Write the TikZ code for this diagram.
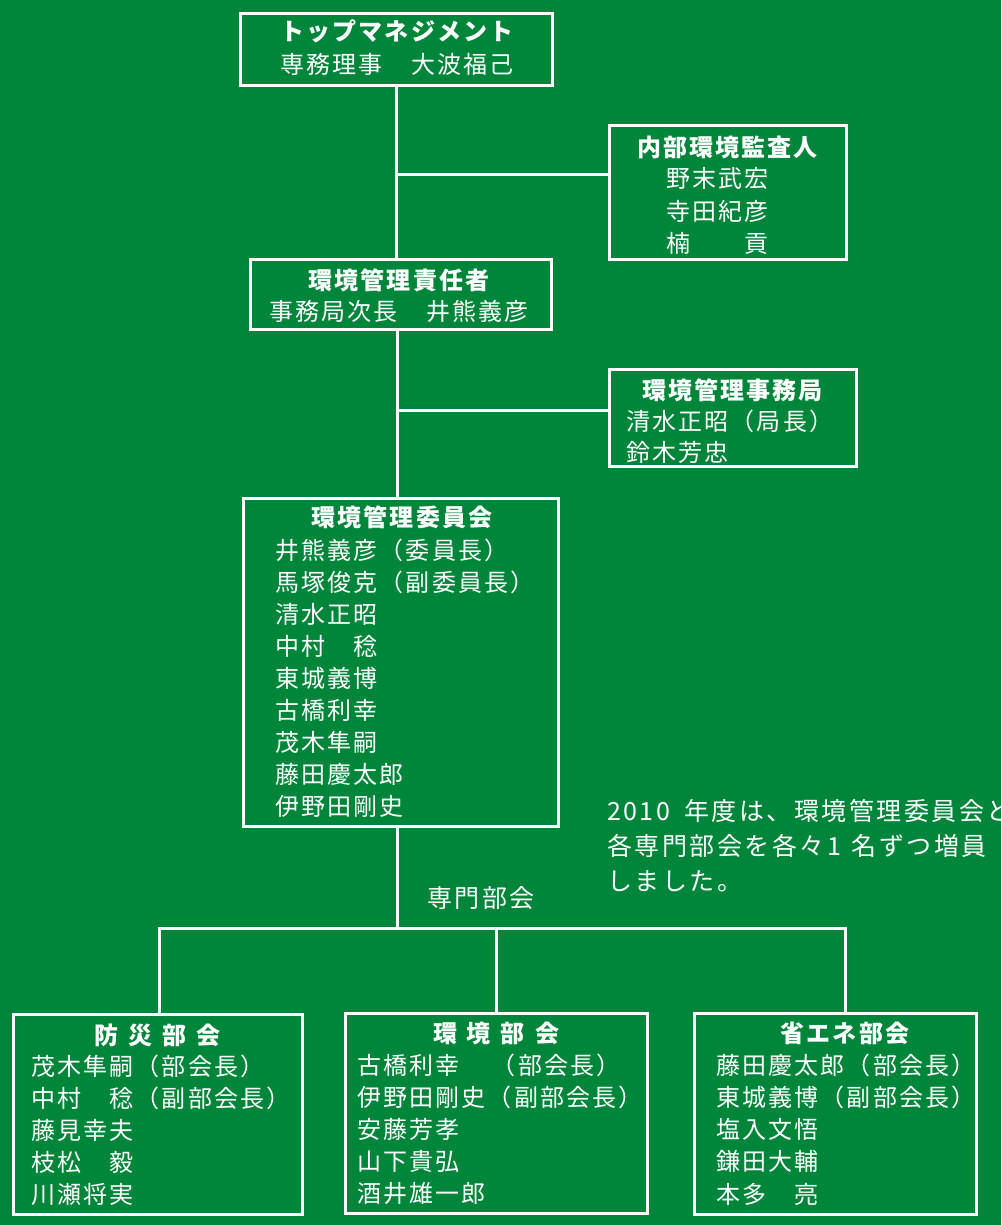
\documentclass[tikz,border=0pt]{standalone}
\usepackage{fontspec}
\newfontfamily\jp[LetterSpace=9]{Noto Sans CJK JP}
\definecolor{bg}{RGB}{0,134,58}
\begin{document}
\begin{tikzpicture}[x=1pt,y=-1pt,
  wl/.style={draw=white, line width=3pt, line join=miter},
  box/.style={draw=white, line width=3pt, inner sep=0pt},
  ln/.style={anchor=west, inner sep=0pt, text=white, text height=21pt, text depth=3pt, font=\jp\fontsize{24}{28}\selectfont},
  lnc/.style={ln, anchor=center},
  ttl/.style={anchor=center, inner sep=0pt, text=white, text height=21pt, text depth=3pt, font=\jp\bfseries\fontsize{24}{28}\selectfont},
  note/.style={anchor=west, inner sep=0pt, text=white, text height=22pt, text depth=3pt, font=\jp\fontsize{25}{30}\selectfont\addfontfeatures{LetterSpace=10}},
]
\fill[bg] (0,0) rectangle (1001,1225);
\useasboundingbox (0,0) rectangle (1001,1225);

% boxes
\node[box, minimum width=312pt, minimum height=72pt] (top) at (396.5,49.5) {};
\node[box, minimum width=237pt, minimum height=134pt] (audit) at (728,192.5) {};
\node[box, minimum width=301pt, minimum height=70pt] (resp) at (401,294.5) {};
\node[box, minimum width=247pt, minimum height=97pt] (office) at (733,418) {};
\node[box, minimum width=315pt, minimum height=328pt] (comm) at (401,662.5) {};
\node[box, minimum width=289pt, minimum height=200pt] (bousai) at (158,1114.5) {};
\node[box, minimum width=302pt, minimum height=200pt] (kankyo) at (496.5,1113.5) {};
\node[box, minimum width=282pt, minimum height=201pt] (shoene) at (835.5,1114) {};

% connector coordinates
\coordinate (v1) at (397,175);
\coordinate (v2) at (397,410);
\coordinate (busL) at (159,928);
\coordinate (busM) at (496,928);
\coordinate (busR) at (845,928);

% connectors
\draw[wl] (top.south) -- (top.south |- resp.north);
\draw[wl] (v1) -- (v1 -| audit.west);
\draw[wl] (resp.south -| v1) -- (v1 |- comm.north);
\draw[wl] (v2) -- (v2 -| office.west);
\draw[wl] (comm.south -| v1) -- (busM -| v1);
\draw[wl] (bousai.north -| busL) -- (busL) -- (busR) -- (shoene.north -| busR);
\draw[wl] (busM) -- (busM |- kankyo.north);

% top management
\node[ttl] (t1) at (397,32) {トップマネジメント};
\node[lnc] (t2) at (397,65) {専務理事　大波福己};

% audit
\node[ttl] (a0) at (727.5,147.5) {内部環境監査人};
\node[ln] (a1) at (666,179) {野末武宏};
\node[ln] (a2) at (666,211) {寺田紀彦};
\node[ln] (a3) at (666,243) {楠　　貢};

% responsible
\node[ttl] (r0) at (399,280) {環境管理責任者};
\node[lnc] (r1) at (399,311) {事務局次長　井熊義彦};

% office
\node[ttl] (o0) at (732.5,390) {環境管理事務局};
\node[ln] (o1) at (626,421) {清水正昭（局長）};
\node[ln] (o2) at (626,452.5) {鈴木芳忠};

% committee
\node[ttl] (c0) at (402,517.5) {環境管理委員会};
\node[ln] (c1) at (275,550) {井熊義彦（委員長）};
\node[ln] (c2) at (275,582) {馬塚俊克（副委員長）};
\node[ln] (c3) at (275,614) {清水正昭};
\node[ln] (c4) at (275,646) {中村　稔};
\node[ln] (c5) at (275,678) {東城義博};
\node[ln] (c6) at (275,710) {古橋利幸};
\node[ln] (c7) at (275,742) {茂木隼嗣};
\node[ln] (c8) at (275,774) {藤田慶太郎};
\node[ln] (c9) at (275,806) {伊野田剛史};

% label and note
\node[note, anchor=center] (sm) at (481,898) {専門部会};
\node[note] (n1) at (607,811) {2010\hspace{14pt}年度は、環境管理委員会と};
\node[note] (n2) at (607,846) {各専門部会を各々\hspace{3pt}1\hspace{10pt}名ずつ増員};
\node[note] (n3) at (607,881) {しました。};

% bousai
\node[ttl] (b0) at (157.5,1035) {防\hspace{10pt}災\hspace{10pt}部\hspace{10pt}会};
\node[ln] (b1) at (31,1066) {茂木隼嗣（部会長）};
\node[ln] (b2) at (31,1098) {中村　稔（副部会長）};
\node[ln] (b3) at (31,1130) {藤見幸夫};
\node[ln] (b4) at (31,1162) {枝松　毅};
\node[ln] (b5) at (31,1194) {川瀬将実};

% kankyo
\node[ttl] (k0) at (496,1033) {環\hspace{10pt}境\hspace{10pt}部\hspace{10pt}会};
\node[ln] (k1) at (357,1065) {古橋利幸　\hspace{6pt}（部会長）};
\node[ln] (k2) at (357,1097) {伊野田剛史（副部会長）};
\node[ln] (k3) at (357,1129) {安藤芳孝};
\node[ln] (k4) at (357,1161) {山下貴弘};
\node[ln] (k5) at (357,1193) {酒井雄一郎};

% shoene
\node[ttl] (s0) at (845,1033) {省エネ部会};
\node[ln] (s1) at (716,1065) {藤田慶太郎（部会長）};
\node[ln] (s2) at (716,1097) {東城義博（副部会長）};
\node[ln] (s3) at (716,1129) {塩入文悟};
\node[ln] (s4) at (716,1161) {鎌田大輔};
\node[ln] (s5) at (716,1194) {本多　亮};
\end{tikzpicture}
\end{document}
